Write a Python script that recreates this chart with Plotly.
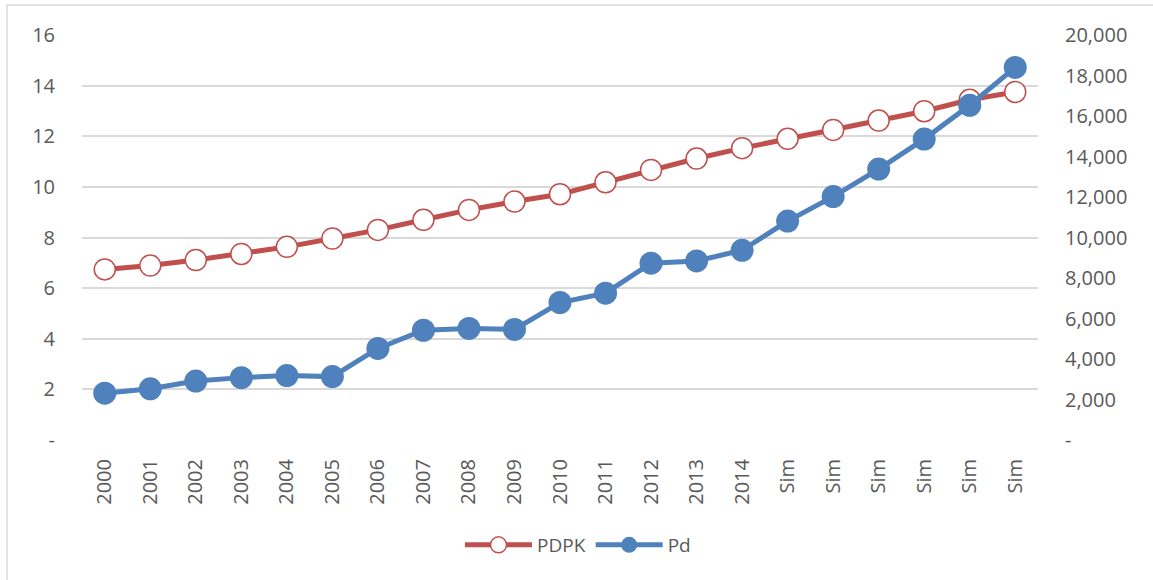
import plotly.graph_objects as go

categories = ["2000", "2001", "2002", "2003", "2004", "2005", "2006", "2007",
              "2008", "2009", "2010", "2011", "2012", "2013", "2014",
              "Sim", "Sim", "Sim", "Sim", "Sim", "Sim"]
pdpk = [6.74, 6.89, 7.11, 7.35, 7.63, 7.96, 8.30, 8.70, 9.09, 9.42, 9.71,
        10.18, 10.67, 11.12, 11.53, 11.90, 12.25, 12.62, 12.99, 13.44, 13.75]
pd_vals = [2310, 2530, 2910, 3080, 3180, 3130, 4520, 5420, 5510, 5460, 6790,
           7250, 8730, 8840, 9370, 10810, 12020, 13380, 14860, 16530, 18400]
left_ticks = [0, 2, 4, 6, 8, 10, 12, 14, 16]
left_text = ["-", "2", "4", "6", "8", "10", "12", "14", "16"]
right_ticks = [0, 2000, 4000, 6000, 8000, 10000, 12000, 14000, 16000, 18000, 20000]
right_text = ["-", "2,000", "4,000", "6,000", "8,000", "10,000", "12,000",
              "14,000", "16,000", "18,000", "20,000"]

RED = "#C0504D"
BLUE = "#4F81BD"
TXT = "#595959"
GRID = "#D9D9D9"
FONT = "Open Sans"

idx = list(range(len(categories)))

fig = go.Figure()
fig.add_trace(go.Scatter(
    x=idx, y=pdpk, name="PDPK", mode="lines+markers",
    line=dict(color=RED, width=5),
    marker=dict(size=21, color="white", line=dict(color=RED, width=1.5)),
    yaxis="y"))
fig.add_trace(go.Scatter(
    x=idx, y=pd_vals, name="Pd", mode="lines+markers",
    line=dict(color=BLUE, width=5),
    marker=dict(size=23, color=BLUE, line=dict(color=BLUE, width=0)),
    yaxis="y2"))

# Plot area: x 82..1038, y 35..440 in a 1153x580 page
L, R, T, B = 82, 1153 - 1038, 35, 580 - 440
pw, ph = 1153 - L - R, 580 - T - B

def px_x(p):
    return (p - L) / pw

def px_y(p):
    return (580 - B - p) / ph

border = dict(color=GRID, width=1.5)

fig.update_layout(
    width=1153, height=580,
    margin=dict(l=L, r=R, t=T, b=B, autoexpand=False),
    paper_bgcolor="white", plot_bgcolor="white",
    font=dict(family=FONT, size=20, color=TXT),
    showlegend=True,
    legend=dict(orientation="h", x=0.5 + 18 / pw, xanchor="center",
                y=px_y(545), yanchor="middle",
                font=dict(family=FONT, size=19, color=TXT),
                itemwidth=67, traceorder="normal", bgcolor="rgba(0,0,0,0)"),
    xaxis=dict(
        range=[-0.5, len(categories) - 0.5],
        tickmode="array", tickvals=idx, ticktext=categories,
        tickangle=-90, showgrid=False, zeroline=False, showline=False,
        ticks="", ticklabelstandoff=14,
        tickfont=dict(family=FONT, size=20, color=TXT), fixedrange=True),
    yaxis=dict(
        range=[0, 16], tickmode="array", tickvals=left_ticks, ticktext=left_text,
        showgrid=True, gridcolor=GRID, gridwidth=1.5, zeroline=False,
        showline=False, ticks="", ticklabelstandoff=26,
        tickfont=dict(family=FONT, size=20, color=TXT)),
    yaxis2=dict(
        range=[0, 20000], tickmode="array", tickvals=right_ticks, ticktext=right_text,
        overlaying="y", side="right", showgrid=False, zeroline=False,
        showline=False, ticks="", ticklabelstandoff=26,
        tickfont=dict(family=FONT, size=20, color=TXT)),
    shapes=[
        dict(type="line", xref="paper", yref="paper",
             x0=px_x(7), x1=px_x(1153), y0=px_y(5), y1=px_y(5), line=border),
        dict(type="line", xref="paper", yref="paper",
             x0=px_x(7), x1=px_x(7), y0=px_y(5), y1=px_y(580), line=border),
    ],
)

fig.write_html("out.html", config={"displayModeBar": False},
               post_script="document.body.style.margin='0px';document.body.style.overflow='hidden';")
